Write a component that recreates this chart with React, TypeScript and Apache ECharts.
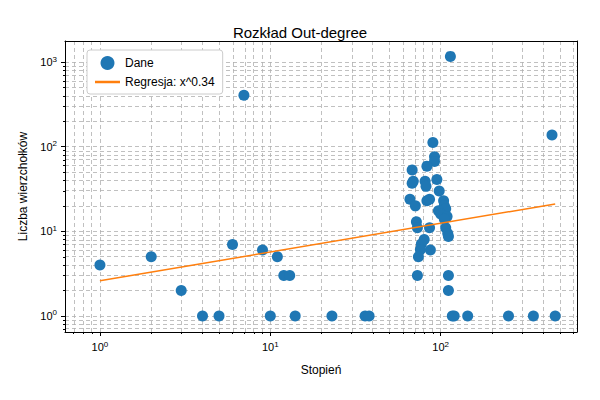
import { useEffect, useRef } from 'react';
import * as echarts from 'echarts';

// stopień (x) i liczba wierzchołków (y)
const degrees = [1, 2, 3, 4, 5, 6, 7, 9, 10, 11, 12, 13, 14, 23, 36, 38,
  90, 92, 92, 83, 68, 95, 68, 69, 81, 82, 98, 66, 71, 83, 86, 104, 105, 107, 97, 100, 109, 105,
  72, 73, 86, 107, 110, 111, 80, 77, 76, 74, 87, 73, 111, 111, 114, 117, 120, 144, 250, 350, 450, 470];
const counts = [4, 5, 2, 1, 1, 7, 407, 6, 1, 5, 3, 3, 1, 1, 1, 1,
  112, 76, 67, 59, 53, 41, 37, 39, 39, 34, 30, 24, 20, 23, 24, 23, 20, 18.5, 17.5, 16, 15, 14,
  13, 11, 11, 11, 9.4, 8.7, 8, 7.1, 6.1, 5, 6, 3, 3, 2, 1170, 1, 1, 1, 1, 1, 138, 1];
const slope = 0.34;
const coef = 2.6;
const majorTicks = [0, 1, 2];
const yMajorTicks = [0, 1, 2, 3];

const L = Math.log10;

function minorValues(from: number, to: number) {
  const out: number[] = [];
  for (let e = from; e <= to; e++) for (let m = 2; m <= 9; m++) out.push(L(m * Math.pow(10, e)));
  return out;
}

export default function App() {
  const ref = useRef<HTMLDivElement>(null);

  useEffect(() => {
    if (!ref.current) return;
    const chart = echarts.init(ref.current, null, { renderer: 'svg' });
    const xMin = -0.205, xMax = 2.8, yMin = -0.19, yMax = 3.25;
    const xMinor = minorValues(-1, 2).filter((v) => v > xMin && v < xMax);
    const yMinor = minorValues(-1, 3).filter((v) => v > yMin && v < yMax);
    const sup = (v: number) => `10{s|${v}}`;
    const gridLine = { type: [4, 3] as number[], color: '#b0b0b0', width: 0.8 };
    const xMax10 = Math.max(...degrees);
    const axisBase = { show: true, onZero: false, lineStyle: { color: '#000' } };
    const rich = { s: { fontSize: 8, verticalAlign: 'top', padding: [0, 0, 6, 0] } };

    chart.setOption({
      animation: false,
      title: { text: 'Rozkład Out-degree', left: 'center', top: 12, textStyle: { fontSize: 15, fontWeight: 'normal', color: '#000' } },
      legend: {
        left: 79, top: 42, orient: 'vertical', itemGap: 6, borderColor: '#ccc', borderWidth: 1, borderRadius: 3,
        backgroundColor: '#fff', padding: [6, 8], z: 10, textStyle: { fontSize: 12, color: '#000' },
        data: [
          { name: 'Dane', icon: 'circle', itemStyle: { color: '#1f77b4' } },
          { name: 'Regresja: x^0.34', icon: 'path://M0,0H20V2H0Z', itemStyle: { color: '#ff7f0e' } },
        ],
      },
      grid: { left: 57, right: 15, top: 33, bottom: 60 },
      xAxis: [
        {
          type: 'value', min: xMin, max: xMax, name: 'Stopień', nameLocation: 'middle', nameGap: 32,
          nameTextStyle: { fontSize: 12, color: '#000' }, axisLine: axisBase, splitLine: { show: false },
          axisTick: { customValues: majorTicks, length: 4, lineStyle: { color: '#000' } },
          axisLabel: { customValues: majorTicks, formatter: sup, color: '#000', fontSize: 11, rich },
        },
        {
          type: 'value', min: xMin, max: xMax, position: 'bottom', axisLine: { show: false, onZero: false },
          axisTick: { customValues: xMinor, length: 2, lineStyle: { color: '#000' } },
          axisLabel: { show: false }, splitLine: { show: false },
        },
        {
          type: 'value', min: xMin, max: xMax, position: 'top', axisLine: axisBase,
          axisTick: { show: false }, axisLabel: { show: false }, splitLine: { show: false },
        },
      ],
      yAxis: [
        {
          type: 'value', min: yMin, max: yMax, name: 'Liczba wierzchołków', nameLocation: 'middle', nameGap: 36,
          nameTextStyle: { fontSize: 12, color: '#000' }, axisLine: axisBase, splitLine: { show: false },
          axisTick: { customValues: yMajorTicks, length: 4, lineStyle: { color: '#000' } },
          axisLabel: { customValues: yMajorTicks, formatter: sup, color: '#000', fontSize: 11, rich },
        },
        {
          type: 'value', min: yMin, max: yMax, position: 'left', axisLine: { show: false, onZero: false },
          axisTick: { customValues: yMinor, length: 2, lineStyle: { color: '#000' } },
          axisLabel: { show: false }, splitLine: { show: false },
        },
        {
          type: 'value', min: yMin, max: yMax, position: 'right', axisLine: axisBase,
          axisTick: { show: false }, axisLabel: { show: false }, splitLine: { show: false },
        },
      ],
      series: [
        {
          type: 'line', data: [], silent: true, z: 0,
          markLine: {
            silent: true, symbol: 'none', label: { show: false }, lineStyle: gridLine, animation: false, z: 0,
            data: [
              ...[...majorTicks, ...xMinor].map((v) => ({ xAxis: v })),
              ...[...yMajorTicks, ...yMinor].map((v) => ({ yAxis: v })),
            ],
          },
        },
        {
          name: 'Dane', type: 'scatter', symbolSize: 11, itemStyle: { color: '#1f77b4', opacity: 1 },
          data: degrees.map((d, i) => [L(d), L(counts[i])]),
          z: 3,
        },
        {
          name: 'Regresja: x^0.34', type: 'line', showSymbol: false, symbol: 'none',
          lineStyle: { color: '#ff7f0e', width: 1.5 }, itemStyle: { color: '#ff7f0e' },
          data: [[0, L(coef)], [L(xMax10), L(coef * Math.pow(xMax10, slope))]],
          z: 4,
        },
      ],
    });
    return () => chart.dispose();
  }, []);

  return <div ref={ref} style={{ width: 584, height: 384 }} />;
}
